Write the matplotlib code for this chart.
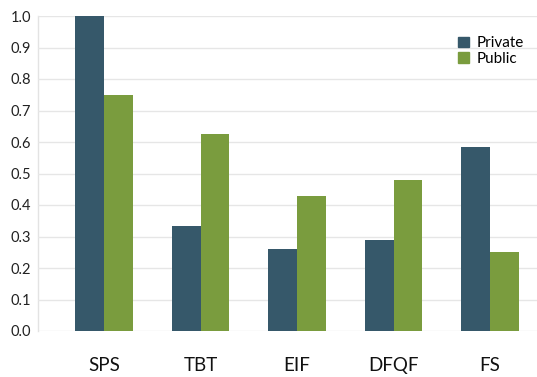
import matplotlib
matplotlib.use("Agg")
import matplotlib.pyplot as plt
import numpy as np
from matplotlib.patches import Patch

categories = ["SPS", "TBT", "EIF", "DFQF", "FS"]
private = [1.0, 0.333, 0.26, 0.29, 0.583]
public = [0.75, 0.625, 0.43, 0.48, 0.25]
yticks = [0.0, 0.1, 0.2, 0.3, 0.4, 0.5, 0.6, 0.7, 0.8, 0.9, 1.0]

plt.rcParams['font.family'] = ['Lato', 'DejaVu Sans']

fig = plt.figure(figsize=(5.37, 3.77), dpi=100)
ax = fig.add_axes([38/537, 1-331/377, 1-38/537, (331-16)/377])

x = np.arange(len(categories))
w = 0.30
c_priv = "#36586A"
c_pub = "#7A9C3E"
ax.bar(x - w/2, private, w, color=c_priv, zorder=3, clip_on=False)
ax.bar(x + w/2, public, w, color=c_pub, zorder=3, clip_on=False)

ax.set_ylim(0, 1.0)
ax.set_xlim(-0.684, 4.487)
ax.set_yticks(yticks)
ax.set_yticklabels([f"{v:.1f}" for v in yticks], fontsize=10.5, color="#222222")
ax.set_xticks(x)
ax.set_xticklabels(categories, fontsize=13.5, color="#111111")
ax.tick_params(axis='x', length=0, pad=19)
ax.tick_params(axis='y', length=0, pad=5)
for s in ax.spines.values():
    s.set_visible(False)
ax.axvline(ax.get_xlim()[0], color="#e3e3e3", lw=1, zorder=1, clip_on=False)
ax.grid(axis='y', color="#e6e6e6", lw=1, zorder=0)

handles = [Patch(color=c_priv, label="Private"), Patch(color=c_pub, label="Public")]
ax.legend(handles=handles, loc="upper right", bbox_to_anchor=(0.985, 0.955), frameon=False,
          fontsize=11, handlelength=0.7, handleheight=0.7, handletextpad=0.5,
          labelspacing=0.1, borderaxespad=0)

fig.savefig("out.png", dpi=100)
